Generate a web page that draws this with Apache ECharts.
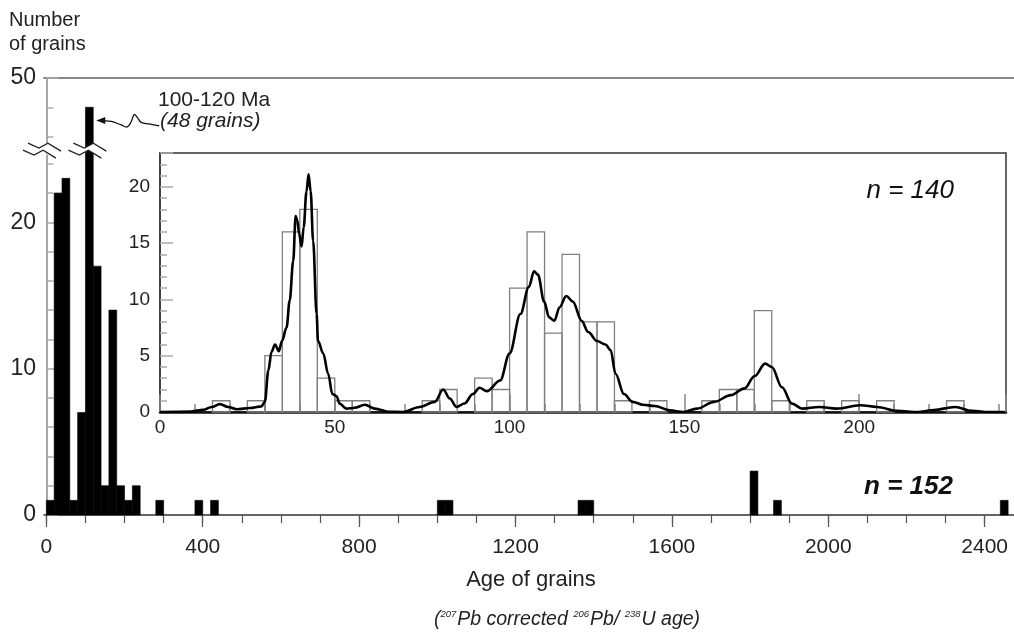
<!DOCTYPE html>
<html><head><meta charset="utf-8">
<script src="https://cdn.jsdelivr.net/npm/echarts@6/dist/echarts.min.js"></script>
<style>html,body{margin:0;padding:0;background:#fff}#c{width:1014px;height:635px}</style>
</head><body><div id="c"></div>
<script>
// ---------- DATA ----------
// Main histogram: 20 Ma bins (bin start, number of grains)
const mainBinStart = [0,20,40,60,80,100,120,140,160,180,200,220,280,380,420,1000,1020,1360,1380,1800,1860,2440];
const mainCounts   = [1,22,23,1,7,48,17,2,14,2,1,2,1,1,1,1,1,1,1,3,1,1];
const mainBinWidth = 20;
const mainXTickLabels = [0,400,800,1200,1600,2000,2400];
const mainXMinorTicks = [0,100,200,300,400,500,600,700,800,900,1000,1100,1200,1300,1400,1500,1600,1700,1800,1900,2000,2100,2200,2300,2400];
const mainYTickLabels = [0,10,20,50];
const mainYMinorTicks = [2,4,6,8,12,14,16,18,22,24,46,48];
// Inset histogram: 5 Ma bins
const insetBinStart = [15,25,30,35,40,45,50,55,75,80,90,95,100,105,110,115,120,125,130,140,155,160,165,170,175,185,195,205,225];
const insetCounts   = [1,1,5,16,18,3,1,1,1,2,3,2,11,16,7,14,8,8,1,1,1,2,2,9,1,1,1,1,1];
const insetBinWidth = 5;
// Probability density curve
const kdeAge = [0,9,12.4,14.8,17.1,19.5,21.9,25.7,29,30,31,31.9,32.9,34,34.9,36.2,37.1,38.1,38.8,39.3,39.8,40.5,41.1,41.9,42.5,43.1,43.8,44.8,45.2,46.7,48.1,49.3,50.5,51.4,53.3,55.7,58.6,61.4,65.7,69.5,74.3,78.6,81,82.9,84.8,87.1,89.5,91.4,93.5,97.3,100,103.1,105.5,107,108.1,109.9,111.3,112.8,114.3,116.2,118.1,120.6,122.5,125,127.4,128.9,130.3,132.7,135.2,138.1,141.5,145.9,149.7,153.6,158.5,163.3,167.2,170.1,173.1,175,177.9,180.8,183.7,188.6,193.5,200.3,205.1,211,216.8,220.7,227.5,232.3,237.2,241.6];
const kdeValue = [0,0.05,0.2,0.45,0.7,0.45,0.25,0.35,0.5,0.9,3.7,5.35,6.0,5.4,6.3,7.5,9.9,13.4,17.4,17.0,15.8,14.7,16.4,19.6,21.1,19.6,15.2,8.7,6.3,5.2,3.4,1.6,1.4,0.74,0.3,0.38,0.65,0.3,0.02,0,0.45,0.9,2.0,1.2,0.45,0.75,1.6,2.15,1.85,2.8,5.2,8.7,11.1,12.5,12.2,9.8,8.4,8.1,9.3,10.3,9.8,8.1,7.1,6.3,6.0,5.5,3.4,1.6,0.9,0.65,0.53,0.15,0,0.3,0.9,1.5,2.1,3.2,4.3,4.0,2.2,0.74,0.3,0.45,0.3,0.6,0.45,0.1,0,0.15,0.45,0.1,0,0];
const insetXInterval = 50;
const insetYInterval = 5;

// ---------- CHART ----------
const FONT = 'Liberation Sans, Arial, sans-serif';
const chart = echarts.init(document.getElementById('c'), null, {renderer: 'canvas'});

const mainData = mainBinStart.map((s, i) => [s, mainCounts[i]]);
const insetData = insetBinStart.map((s, i) => [s, insetCounts[i]]);
const kdeData = kdeAge.map((a, i) => [a, kdeValue[i]]);
const yBreaks = [{start: 24.6, end: 45.4, gap: '2.2%'}];
const plain = v => String(v);

const option = {
  animation: false,
  backgroundColor: '#fff',
  grid: [
    {left: 44, right: 0, top: 78, bottom: 120},
    {left: 160, right: 8, top: 153, bottom: 223, show: true, borderColor: '#333', borderWidth: 1.5}
  ],
  xAxis: [
    { // main
      type: 'value', gridIndex: 0, min: -6, max: 2475,
      axisLine: {lineStyle: {color: '#333', width: 1.5}},
      axisTick: {customValues: mainXTickLabels, length: 12, lineStyle: {color: '#555', width: 1.2}},
      axisLabel: {customValues: mainXTickLabels, formatter: plain, fontSize: 21, color: '#222', fontFamily: FONT, margin: 22},
      splitLine: {show: false}
    },
    { // main minor ticks
      type: 'value', gridIndex: 0, min: -6, max: 2475, position: 'bottom',
      axisLine: {show: false},
      axisTick: {customValues: mainXMinorTicks, length: 8, lineStyle: {color: '#555', width: 1.2}},
      axisLabel: {show: false}, splitLine: {show: false}
    },
    { // main top border
      type: 'value', gridIndex: 0, min: -6, max: 2475, position: 'top',
      axisLine: {lineStyle: {color: '#888', width: 2}},
      axisTick: {show: false}, axisLabel: {show: false}, splitLine: {show: false}
    },
    { // inset
      type: 'value', gridIndex: 1, min: 0, max: 242, interval: insetXInterval,
      axisLine: {lineStyle: {color: '#111', width: 2.5}},
      axisTick: {inside: true, length: 18, lineStyle: {color: '#888', width: 1.5}},
      minorTick: {show: true, splitNumber: 5, length: 8, lineStyle: {color: '#888', width: 1.5}},
      axisLabel: {fontSize: 19, color: '#222', fontFamily: FONT, margin: 6, showMaxLabel: false, formatter: plain},
      splitLine: {show: false}
    }
  ],
  yAxis: [
    { // main
      type: 'value', gridIndex: 0, min: 0, max: 50,
      breaks: yBreaks, breakArea: {show: false},
      axisLine: {show: true, lineStyle: {color: '#888', width: 1.5}},
      axisTick: {inside: true, customValues: [0,10,20,50], length: 12, lineStyle: {color: '#aaa', width: 1.5}},
      axisLabel: {customValues: mainYTickLabels, formatter: plain, fontSize: 23, color: '#222', fontFamily: FONT, margin: 8},
      splitLine: {show: false}
    },
    { // main minor ticks
      type: 'value', gridIndex: 0, min: 0, max: 50, position: 'left',
      breaks: yBreaks, breakArea: {show: false},
      axisLine: {show: false},
      axisTick: {inside: true, customValues: mainYMinorTicks, length: 7, lineStyle: {color: '#aaa', width: 1.5}},
      axisLabel: {show: false}, splitLine: {show: false}
    },
    { // inset
      type: 'value', gridIndex: 1, min: 0, max: 23, interval: insetYInterval,
      axisLine: {show: true, lineStyle: {color: '#333', width: 1.5}},
      axisTick: {inside: true, length: 13, lineStyle: {color: '#aaa', width: 1.5}},
      minorTick: {show: true, splitNumber: 5, length: 7, lineStyle: {color: '#aaa', width: 1.5}},
      axisLabel: {fontSize: 19, color: '#222', fontFamily: FONT, margin: 10, showMaxLabel: false, formatter: plain},
      splitLine: {show: false}
    }
  ],
  series: [
    {
      type: 'custom', name: 'main', xAxisIndex: 0, yAxisIndex: 0, data: mainData,
      encode: {x: 0, y: 1}, clip: false,
      renderItem: (params, api) => {
        const s = api.value(0), v = api.value(1);
        const p0 = api.coord([s, 0]), p1 = api.coord([s + mainBinWidth, v]);
        return {type: 'rect', shape: {x: p0[0], y: p1[1], width: p1[0] - p0[0], height: p0[1] - p1[1]},
                style: {fill: '#000', stroke: '#000', lineWidth: 0.6}};
      }
    },
    {
      type: 'custom', name: 'inset', xAxisIndex: 3, yAxisIndex: 2, data: insetData, z: 6,
      encode: {x: 0, y: 1},
      renderItem: (params, api) => {
        const s = api.value(0), v = api.value(1);
        const p0 = api.coord([s, 0]), p1 = api.coord([s + insetBinWidth, v]);
        return {type: 'rect', shape: {x: p0[0], y: p1[1], width: p1[0] - p0[0], height: p0[1] - p1[1]},
                style: {fill: 'none', stroke: '#808080', lineWidth: 1.3}};
      }
    },
    {
      type: 'line', name: 'kde', xAxisIndex: 3, yAxisIndex: 2, data: kdeData, z: 7,
      showSymbol: false, smooth: 0.35, smoothMonotone: 'x',
      lineStyle: {color: '#000', width: 2.6}
    }
  ]
};
chart.setOption(option);

// ---------- DECORATIONS (positions from the axes) ----------
const px = (v) => chart.convertToPixel({xAxisIndex: 0}, v);
const py = (v) => chart.convertToPixel({yAxisIndex: 0}, v);
const axisX = px(-6);
const barX = px(110);
const cy = (py(yBreaks[0].start) + py(yBreaks[0].end)) / 2;

function breakMark(cx, cyy) {
  const A = [[-16,-7],[-5,-2],[4,-7],[17,1]];
  const B = [[-21,0],[-10,5],[-1,0],[12,8]];
  const abs = pts => pts.map(p => [cx + p[0], cyy + p[1]]);
  return [
    {type: 'polygon', shape: {points: abs(A.concat(B.slice().reverse()))}, style: {fill: '#fff'}, z: 100},
    {type: 'polyline', shape: {points: abs(A)}, style: {stroke: '#222', lineWidth: 1.3, fill: null}, z: 101},
    {type: 'polyline', shape: {points: abs(B)}, style: {stroke: '#222', lineWidth: 1.3, fill: null}, z: 101}
  ];
}

const tipX = px(120) + 3, tipY = py(47.1);
const wave = [[8,0.5],[15,1],[25,4.5],[31,6.5],[35,1],[38,-6],[41,-3],[45,2],[53,3.5],[63,5.5]]
  .map(p => [tipX + p[0], tipY + p[1]]);

const graphics = [].concat(
  breakMark(axisX, cy),
  breakMark(barX, cy),
  [
    {type: 'polyline', shape: {points: wave, smooth: 0.4}, style: {stroke: '#111', lineWidth: 1.3, fill: null}, z: 100},
    {type: 'polygon', shape: {points: [[tipX, tipY], [tipX + 9, tipY - 3.5], [tipX + 9, tipY + 3.5]]}, style: {fill: '#111'}, z: 100},
    {type: 'text', x: 158, y: 100, z: 100, style: {text: '100-120 Ma', font: '21px ' + FONT, fill: '#222', verticalAlign: 'middle', align: 'left'}},
    {type: 'text', x: 160, y: 121, z: 100, style: {text: '(48 grains)', font: 'italic 21px ' + FONT, fill: '#222', verticalAlign: 'middle', align: 'left'}},
    {type: 'text', x: 9, y: 8, z: 100, style: {text: 'Number\nof grains', font: '20px ' + FONT, lineHeight: 24, fill: '#222', align: 'left', verticalAlign: 'top'}},
    {type: 'text', x: 953, y: 487, z: 100, style: {text: 'n = 152', font: 'italic bold 26px ' + FONT, fill: '#111', align: 'right', verticalAlign: 'middle'}},
    {type: 'text', x: 954, y: 191, z: 100, style: {text: 'n = 140', font: 'italic 26px ' + FONT, fill: '#111', align: 'right', verticalAlign: 'middle'}},
    {type: 'text', x: 531, y: 580, z: 100, style: {text: 'Age of grains', font: '22px ' + FONT, fill: '#222', align: 'center', verticalAlign: 'middle'}},
    {type: 'text', x: 567, y: 620, z: 100, style: {
      text: '({s|207}Pb corrected {s|206}Pb/ {s|238}U age)',
      font: 'italic 19.5px ' + FONT, fill: '#222', align: 'center', verticalAlign: 'middle',
      rich: {s: {fontSize: 9.5, fontStyle: 'italic', fontFamily: FONT, verticalAlign: 'top', lineHeight: 21, padding: [0,1,10,0]}}
    }}
  ]
);
chart.setOption({graphic: graphics});
</script></body></html>
